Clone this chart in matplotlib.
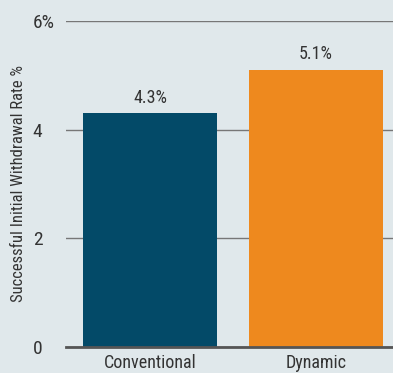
import matplotlib.pyplot as plt

categories = ["Conventional", "Dynamic"]
rates = [4.3, 5.1]
bar_colors = ["#034a68", "#ee891e"]
yticks = [0, 2, 4, 6]
ytick_labels = ["0", "2", "4", "6%"]

bg = "#e0e8eb"
txt = "#333333"
plt.rcParams['font.family'] = ['Roboto Condensed', 'DejaVu Sans']

fig = plt.figure(figsize=(3.93, 3.73), dpi=100, facecolor=bg)
ax = fig.add_axes([0.168, 0.0697, 0.832, 0.874], facecolor=bg)

x = list(range(len(categories)))
ax.bar(x, rates, width=0.807, color=bar_colors, zorder=3)
for xi, r in zip(x, rates):
    ax.text(xi, r + 0.12, f"{r}%", ha="center", va="bottom", fontsize=13, color=txt)

ax.set_xlim(-0.506, 1.464)
ax.set_ylim(0, 6)
ax.set_yticks(yticks)
ax.set_yticklabels(ytick_labels, fontsize=14, color=txt, ha="left")
ax.set_xticks(x)
ax.set_xticklabels(categories, fontsize=13, color=txt)
ax.tick_params(axis="y", length=0, pad=24)
ax.tick_params(axis="x", length=0, pad=5)
ax.grid(axis="y", color="#777777", linewidth=1, zorder=0)
for s in ["top", "right", "left"]:
    ax.spines[s].set_visible(False)
ax.spines["bottom"].set_color("#555555")
ax.spines["bottom"].set_linewidth(2)
ax.spines["bottom"].set_zorder(4)

fig.text(19 / 393, 1 - 184 / 373, "Successful Initial Withdrawal Rate %", rotation=90,
         ha="center", va="center", fontsize=12, color=txt)

fig.savefig("out.png", dpi=100, facecolor=bg)
